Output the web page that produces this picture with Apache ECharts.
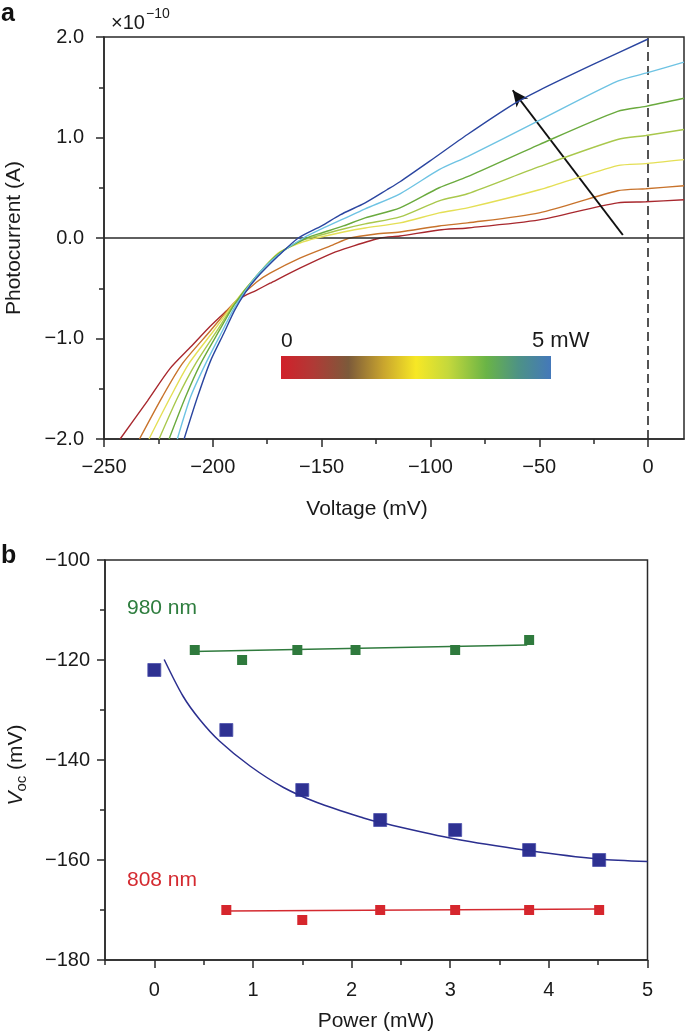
<!DOCTYPE html>
<html><head><meta charset="utf-8">
<script src="https://cdn.jsdelivr.net/npm/echarts@6/dist/echarts.min.js"></script>
<style>html,body{margin:0;padding:0;background:#fff}#c{width:685px;height:1036px}</style>
</head><body><div id="c"></div>
<script>
// ---------- Panel a : photocurrent vs voltage (units of 1e-10 A) ----------
const vP0 = [-242.6, -230, -219.7, -210, -201.3, -194, -187.5, -180, -173.7, -160, -145, -137, -123, -114, -96, -83, -50, -14, -1, 16.5];
const iP0 = [-2.0, -1.62, -1.30, -1.08, -0.88, -0.73, -0.60, -0.52, -0.45, -0.30, -0.15, -0.09, 0.0, 0.02, 0.08, 0.10, 0.18, 0.35, 0.36, 0.38];
const vP1 = [-233.7, -223.2, -214, -201, -190, -180, -173.7, -160, -145, -137, -125, -114, -96, -83, -50, -14, -1, 16.5];
const iP1 = [-2.0, -1.58, -1.25, -0.92, -0.64, -0.44, -0.35, -0.20, -0.07, 0.0, 0.04, 0.06, 0.12, 0.15, 0.25, 0.47, 0.49, 0.52];
const vP2 = [-229.3, -219.4, -211, -199.5, -190, -180, -170, -160, -152.3, -140, -130, -114, -96, -83, -50, -14, -1, 16.5];
const iP2 = [-2.0, -1.58, -1.25, -0.92, -0.64, -0.38, -0.15, -0.05, 0.0, 0.06, 0.10, 0.15, 0.25, 0.30, 0.48, 0.72, 0.74, 0.78];
const vP3 = [-224.7, -216, -207.9, -198, -190, -180, -170, -160, -155.4, -140, -130, -114, -96, -83, -50, -14, -1, 16.5];
const iP3 = [-2.0, -1.58, -1.25, -0.92, -0.65, -0.38, -0.16, -0.03, 0.0, 0.09, 0.14, 0.21, 0.37, 0.44, 0.71, 0.98, 1.02, 1.08];
const vP4 = [-220.1, -212.5, -205.6, -197, -190, -180, -170, -156.9, -150, -140, -130, -114, -96, -83, -50, -14, -1, 16.5];
const iP4 = [-2.0, -1.58, -1.25, -0.92, -0.66, -0.38, -0.16, 0.0, 0.05, 0.12, 0.20, 0.30, 0.50, 0.61, 0.93, 1.26, 1.31, 1.39];
const vP5 = [-216.3, -210.2, -203.3, -195.5, -190, -180, -170, -158.4, -150, -140, -130, -114, -96, -83, -50, -14, -1, 16.5];
const iP5 = [-2.0, -1.58, -1.25, -0.92, -0.69, -0.38, -0.17, 0.0, 0.09, 0.19, 0.29, 0.44, 0.68, 0.81, 1.17, 1.56, 1.64, 1.75];
const vP6 = [-213.2, -207, -201, -195, -190, -185, -180, -170, -160.7, -150, -141.5, -130, -120, -114, -100, -83, -62, -50, -25, 0];
const iP6 = [-2.0, -1.58, -1.22, -0.95, -0.72, -0.54, -0.40, -0.18, 0.0, 0.12, 0.23, 0.35, 0.48, 0.56, 0.77, 1.03, 1.33, 1.47, 1.73, 1.98];
const curveColors = ['#a8282e', '#c8732c', '#e4df55', '#a9c84c', '#6aaa3e', '#6ec3e3', '#2b46a0'];
const arrowTail = [-11.6, 0.03];
const arrowHead = [-62.2, 1.47];
const xMajorA = [-250, -200, -150, -100, -50, 0];
const xMinorA = [-225, -175, -125, -75, -25];

// ---------- Panel b : Voc vs power ----------
const p980 = [0.41, 0.89, 1.45, 2.04, 3.05, 3.80];
const v980 = [-118, -120, -118, -118, -118, -116];
const p980Fit = [0.39, 3.78];
const v980Fit = [-118.3, -117.0];
const pBlue = [0, 0.73, 1.50, 2.29, 3.05, 3.80, 4.51];
const vBlue = [-122, -134, -146, -152, -154, -158, -160];
const pBlueFit = [0.10, 0.29, 0.46, 0.66, 0.97, 1.31, 1.65, 2.12, 2.29, 3.05, 3.79, 4.50, 5.0];
const vBlueFit = [-119.9, -127.2, -131.9, -136.2, -141.2, -145.5, -148.5, -151.6, -152.5, -155.8, -158.1, -159.8, -160.3];
const p808 = [0.73, 1.50, 2.29, 3.05, 3.80, 4.51];
const v808 = [-170, -172, -170, -170, -170, -170];
const p808Fit = [0.73, 4.51];
const v808Fit = [-170.2, -169.8];
const xMajorB = [0, 1, 2, 3, 4, 5];
const xMinorB = [-0.5, 0.5, 1.5, 2.5, 3.5, 4.5];

const FONT = '"Liberation Sans", Arial, Helvetica, sans-serif';
const AX = '#2a2a2a';
const zip = (a, b) => a.map((v, i) => [v, b[i]]);
const minus = s => String(s).replace('-', '\u2212');

const vs = [vP0, vP1, vP2, vP3, vP4, vP5, vP6];
const is = [iP0, iP1, iP2, iP3, iP4, iP5, iP6];

const lbl = {color: '#1a1a1a', fontSize: 20, fontFamily: FONT};
function xAxisMajor(grid, min, max, vals, fmt, margin) {
  return {gridIndex: grid, type: 'value', min, max, position: 'bottom',
    axisLine: {show: true, onZero: false, lineStyle: {color: AX, width: 1.5}},
    axisTick: {show: true, length: 8, customValues: vals, lineStyle: {color: AX, width: 1.5}},
    axisLabel: Object.assign({customValues: vals, formatter: fmt, margin}, lbl),
    splitLine: {show: false}};
}
function xAxisMinor(grid, min, max, vals) {
  return {gridIndex: grid, type: 'value', min, max, position: 'bottom',
    axisLine: {show: false, onZero: false},
    axisTick: {show: true, length: 5, customValues: vals, lineStyle: {color: AX, width: 1.5}},
    axisLabel: {show: false}, splitLine: {show: false}};
}

const series = [];
vs.forEach((v, k) => {
  series.push({type: 'line', xAxisIndex: 0, yAxisIndex: 0, data: zip(v, is[k]),
    symbol: 'none', smooth: 0.25, clip: true,
    lineStyle: {color: curveColors[k], width: 1.4}, z: 3 + k});
});
series[0].markLine = {silent: true, symbol: 'none', label: {show: false}, animation: false,
  data: [
    {yAxis: 0, lineStyle: {color: AX, width: 1.5, type: 'solid'}},
    {xAxis: 0, lineStyle: {color: AX, width: 1.6, type: [9, 5]}},
    [{coord: arrowTail, symbol: 'none'},
     {coord: arrowHead, symbol: 'arrow', symbolSize: [11, 16], lineStyle: {color: '#111', width: 2, type: 'solid'}}]
  ]};

series.push(
  {type: 'line', xAxisIndex: 2, yAxisIndex: 1, data: zip(p980Fit, v980Fit), symbol: 'none', lineStyle: {color: '#2f7a3d', width: 1.6}},
  {type: 'scatter', xAxisIndex: 2, yAxisIndex: 1, data: zip(p980, v980), symbol: 'rect', symbolSize: 10, itemStyle: {color: '#2f7a3d', opacity: 1}},
  {type: 'line', xAxisIndex: 2, yAxisIndex: 1, data: zip(pBlueFit, vBlueFit), symbol: 'none', smooth: 0.3, lineStyle: {color: '#2b2f8f', width: 1.5}},
  {type: 'scatter', xAxisIndex: 2, yAxisIndex: 1, data: zip(pBlue, vBlue), symbol: 'rect', symbolSize: 13, itemStyle: {color: '#2e3192', borderColor: '#4e53ad', borderWidth: 0.8, opacity: 1}},
  {type: 'line', xAxisIndex: 2, yAxisIndex: 1, data: zip(p808Fit, v808Fit), symbol: 'none', lineStyle: {color: '#d42a30', width: 1.6}},
  {type: 'scatter', xAxisIndex: 2, yAxisIndex: 1, data: zip(p808, v808), symbol: 'rect', symbolSize: 10, itemStyle: {color: '#d6262d', opacity: 1}}
);

const txt = (x, y, text, o, rot) => ({type: 'text', x, y, silent: true, rotation: rot || 0,
  style: Object.assign({text, fill: '#1a1a1a', font: '21px ' + FONT, align: 'left', verticalAlign: 'middle'}, o || {})});

const option = {
  animation: false,
  backgroundColor: '#fff',
  grid: [
    {left: 104, top: 37, width: 580, height: 402, show: true, borderColor: AX, borderWidth: 1.5, containLabel: false, outerBoundsMode: 'none'},
    {left: 105, top: 560, width: 542.5, height: 400, show: true, borderColor: AX, borderWidth: 1.5, containLabel: false, outerBoundsMode: 'none'}
  ],
  xAxis: [
    xAxisMajor(0, -250, 16.5, xMajorA, v => minus(v), 18),
    xAxisMinor(0, -250, 16.5, xMinorA),
    xAxisMajor(1, -0.5, 5, xMajorB, v => String(v), 20),
    xAxisMinor(1, -0.5, 5, xMinorB)
  ],
  yAxis: [
    {gridIndex: 0, type: 'value', min: -2, max: 2, interval: 1,
      axisLine: {show: true, onZero: false, lineStyle: {color: AX, width: 1.5}},
      axisTick: {show: true, length: 8, lineStyle: {color: AX, width: 1.5}},
      minorTick: {show: true, splitNumber: 2, length: 5, lineStyle: {color: AX, width: 1.5}},
      axisLabel: Object.assign({margin: 20, formatter: v => minus(v.toFixed(1))}, lbl),
      splitLine: {show: false}},
    {gridIndex: 1, type: 'value', min: -180, max: -100, interval: 20,
      axisLine: {show: true, onZero: false, lineStyle: {color: AX, width: 1.5}},
      axisTick: {show: true, length: 8, lineStyle: {color: AX, width: 1.5}},
      minorTick: {show: true, splitNumber: 2, length: 5, lineStyle: {color: AX, width: 1.5}},
      axisLabel: Object.assign({margin: 15, formatter: v => minus(v)}, lbl),
      splitLine: {show: false}}
  ],
  series,
  graphic: [
    txt(1, 14, 'a', {font: 'bold 25px ' + FONT, fill: '#111'}),
    txt(111, 23, '\u00d710', {font: '20px ' + FONT}),
    txt(146, 14, '\u221210', {font: '14px ' + FONT}),
    {type: 'rect', silent: true, shape: {x: 281, y: 356, width: 270, height: 23},
      style: {fill: new echarts.graphic.LinearGradient(0, 0, 1, 0, [
        {offset: 0, color: '#d1202a'}, {offset: 0.12, color: '#b03a36'}, {offset: 0.25, color: '#7c5a3a'},
        {offset: 0.38, color: '#c9a52e'}, {offset: 0.5, color: '#f7e825'}, {offset: 0.62, color: '#c4d83c'},
        {offset: 0.76, color: '#6ab446'}, {offset: 0.88, color: '#4d9286'}, {offset: 1, color: '#4478ba'}])}},
    txt(281, 341, '0'),
    txt(532, 341, '5 mW', {font: '22px ' + FONT}),
    txt(14, 238, 'Photocurrent (A)', {align: 'center'}, Math.PI / 2),
    txt(367, 509, 'Voltage (mV)', {align: 'center'}),
    txt(1, 556, 'b', {font: 'bold 25px ' + FONT, fill: '#111'}),
    txt(127, 608, '980 nm', {fill: '#2e7d3e'}),
    txt(127, 880, '808 nm', {fill: '#d42a30'}),
    txt(376, 1021, 'Power (mW)', {align: 'center'}),
    {type: 'text', x: 16, y: 765, rotation: Math.PI / 2, silent: true,
      style: {text: '{i|V}{s|oc}{n| (mV)}', align: 'center', verticalAlign: 'middle', fill: '#1a1a1a',
        rich: {i: {font: 'italic 21px ' + FONT, fill: '#1a1a1a'},
               s: {font: '15px ' + FONT, fill: '#1a1a1a', padding: [12, 0, 0, 0]},
               n: {font: '21px ' + FONT, fill: '#1a1a1a'}}}}
  ]
};

const chart = echarts.init(document.getElementById('c'), null, {renderer: 'canvas'});
chart.setOption(option);
</script></body></html>
